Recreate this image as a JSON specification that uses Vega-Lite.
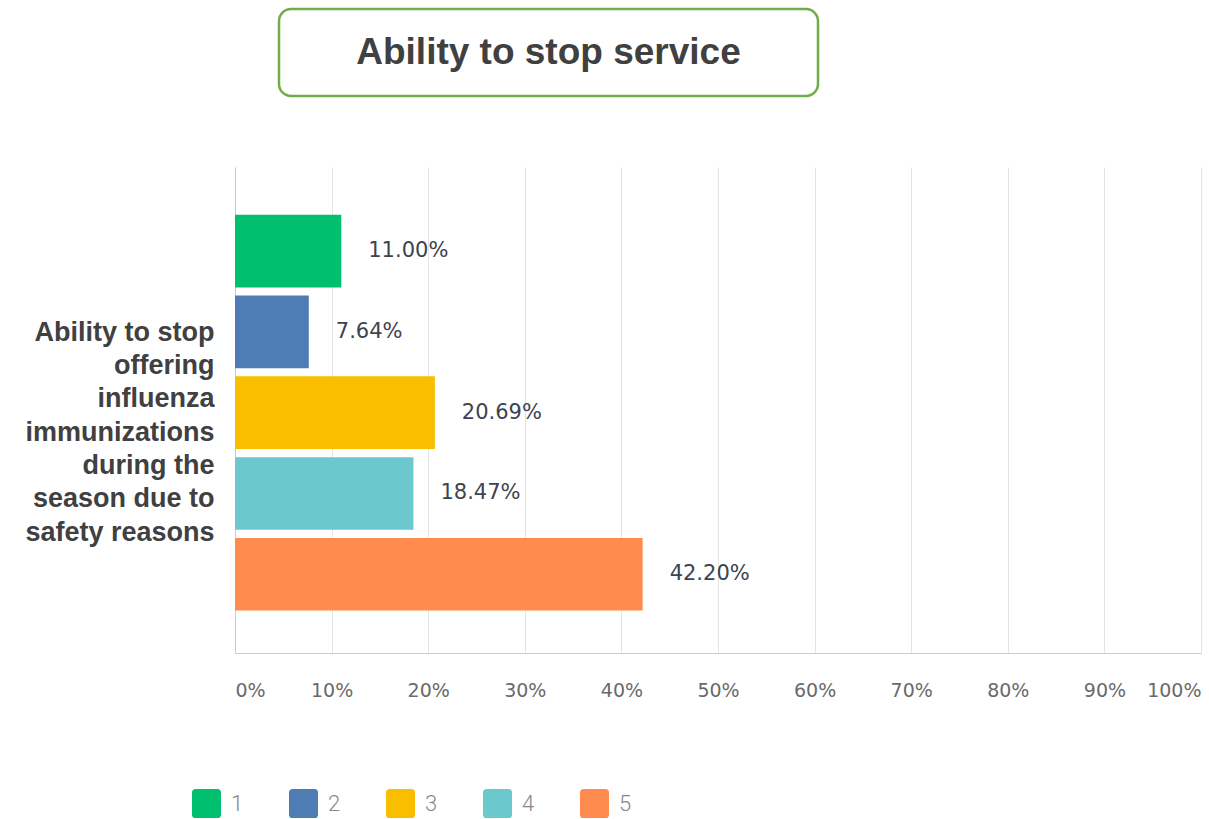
{
  "$schema": "https://vega.github.io/schema/vega-lite/v6.json",
  "background": "white",
  "padding": {"left": 24, "top": 7, "right": 4, "bottom": 0},
  "config": {"view": {"stroke": null}},
  "bounds": "full",
  "spacing": 69,
  "vconcat": [
    {
      "bounds": "flush",
      "spacing": 20,
      "hconcat": [
        {
          "width": 24,
          "height": 87,
          "data": {"values": []},
          "mark": "text",
          "view": {"stroke": null, "fill": "white"}
        },
        {
          "width": 539,
          "height": 87,
          "data": {"values": [{"title": "Ability to stop service"}]},
          "mark": {"type": "text", "font": "Liberation Sans", "fontWeight": "bold", "fontSize": 37, "color": "#404040"},
          "encoding": {"text": {"field": "title", "type": "nominal"}},
          "view": {"stroke": "#70ad47", "strokeWidth": 2.5, "cornerRadius": 12, "fill": "white"}
        }
      ]
    },
    {
      "width": 966,
      "height": 486,
      "data": {
        "values": [
          {"question": "Ability to stop\noffering\ninfluenza\nimmunizations\nduring the\nseason due to\nsafety reasons", "answer": "1", "share": 0.11},
          {"question": "Ability to stop\noffering\ninfluenza\nimmunizations\nduring the\nseason due to\nsafety reasons", "answer": "2", "share": 0.0764},
          {"question": "Ability to stop\noffering\ninfluenza\nimmunizations\nduring the\nseason due to\nsafety reasons", "answer": "3", "share": 0.2069},
          {"question": "Ability to stop\noffering\ninfluenza\nimmunizations\nduring the\nseason due to\nsafety reasons", "answer": "4", "share": 0.1847},
          {"question": "Ability to stop\noffering\ninfluenza\nimmunizations\nduring the\nseason due to\nsafety reasons", "answer": "5", "share": 0.422}
        ]
      },
      "encoding": {
        "y": {
          "field": "question",
          "type": "nominal",
          "scale": {"paddingOuter": 0.114, "paddingInner": 0, "align": 0.53},
          "axis": {
            "title": null,
            "ticks": false,
            "domain": true,
            "domainColor": "#cccccc",
            "domainWidth": 1,
            "labelExpr": "split(datum.label, '\\n')",
            "labelFont": "Liberation Sans",
            "labelFontWeight": "bold",
            "labelFontSize": 27,
            "labelLineHeight": 33.3,
            "labelColor": "#404040",
            "labelAlign": "right",
            "labelBaseline": "middle",
            "labelPadding": 21,
            "labelOffset": -80,
            "labelLimit": 500
          }
        },
        "yOffset": {"field": "answer", "type": "nominal", "scale": {"paddingInner": 0.1, "paddingOuter": 0}},
        "x": {
          "field": "share",
          "type": "quantitative",
          "scale": {"domain": [0, 1], "nice": false},
          "axis": {
            "title": null,
            "values": [0, 0.1, 0.2, 0.3, 0.4, 0.5, 0.6, 0.7, 0.8, 0.9, 1],
            "format": ".0%",
            "ticks": false,
            "grid": true,
            "gridColor": "#e4e4e4",
            "gridWidth": 1,
            "domain": true,
            "domainColor": "#cccccc",
            "labelFlush": true,
            "labelFont": "DejaVu Sans",
            "labelFontSize": 19,
            "labelColor": "#6a6a6a",
            "labelPadding": 28
          }
        }
      },
      "layer": [
        {
          "mark": {"type": "bar"},
          "encoding": {
            "color": {
              "field": "answer",
              "type": "nominal",
              "scale": {"domain": ["1", "2", "3", "4", "5"], "range": ["#00bf6f", "#507cb6", "#f9be00", "#6bc8cd", "#ff8b4f"]},
              "legend": {
                "title": null,
                "orient": "none",
                "legendX": -43,
                "legendY": 780,
                "direction": "horizontal",
                "symbolType": "M -0.75 -1 H 0.75 Q 1 -1 1 -0.75 V 0.75 Q 1 1 0.75 1 H -0.75 Q -1 1 -1 0.75 V -0.75 Q -1 -1 -0.75 -1 Z",
                "symbolSize": 841,
                "symbolStrokeWidth": 0,
                "symbolOpacity": 1,
                "labelFont": "Roboto",
                "labelFontWeight": 300,
                "labelFontSize": 22,
                "labelColor": "#888888",
                "labelOffset": 10,
                "columnPadding": 45,
                "gridAlign": "all"
              }
            }
          }
        },
        {
          "mark": {"type": "text", "align": "left", "baseline": "middle", "dx": 27, "font": "DejaVu Sans", "fontSize": 21, "color": "#3d434f"},
          "encoding": {"text": {"field": "share", "type": "quantitative", "format": ".2%"}}
        }
      ]
    }
  ]
}
